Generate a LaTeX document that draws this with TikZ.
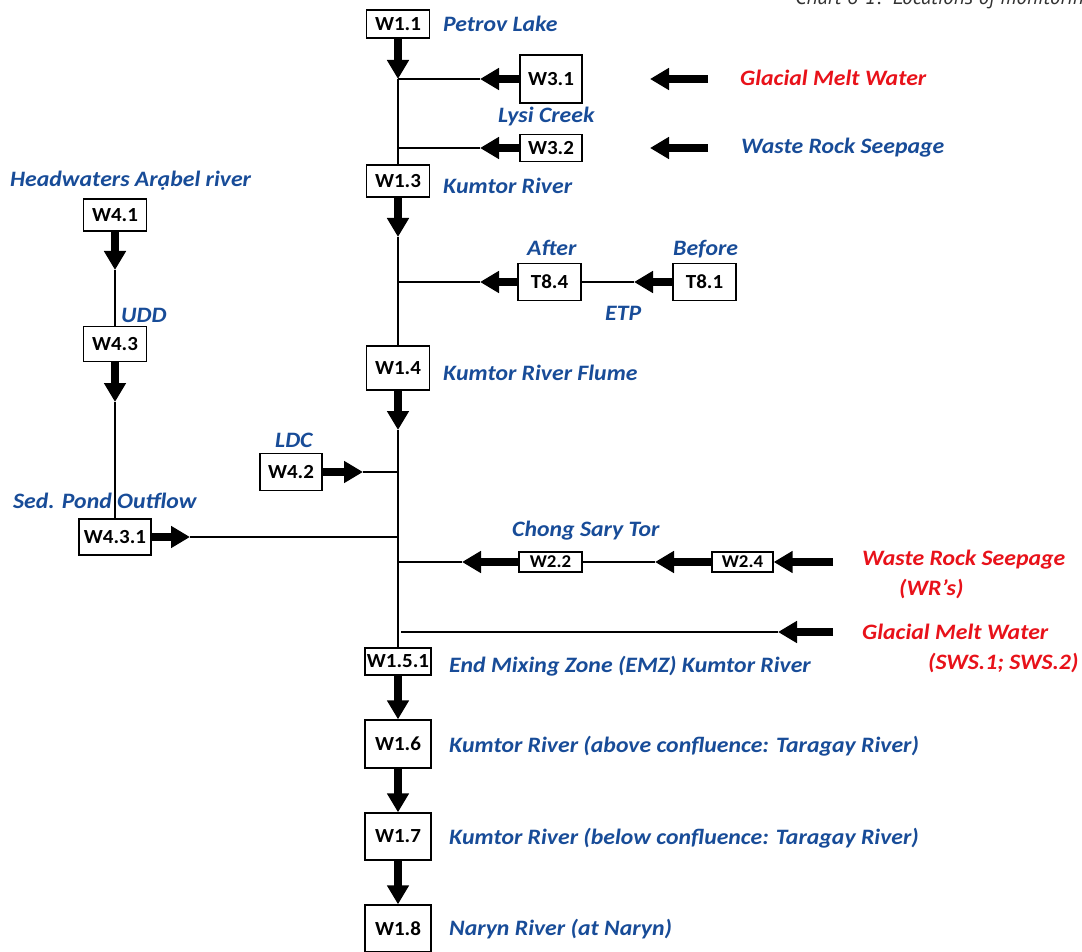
\documentclass[tikz,border=0pt]{standalone}
\usepackage{fontspec}
\setmainfont{Carlito}
\newfontfamily\labfont[FakeStretch=1.08]{Carlito}
\newfontfamily\stnfont[FakeStretch=1.05]{Carlito}
\newfontfamily\capfont{PT Sans}
\usetikzlibrary{arrows.meta}
\definecolor{siteblue}{RGB}{24,76,152}
\definecolor{srcred}{RGB}{232,18,26}
\definecolor{capgray}{RGB}{50,50,50}

\begin{document}
\begin{tikzpicture}[x=1pt,y=-1pt,
  stn/.style={draw,line width=1.3pt,fill=white,inner sep=0pt,text=black,
    font=\stnfont\fontsize{20}{20}\selectfont\bfseries},
  stnsmall/.style={stn,font=\stnfont\fontsize{18}{18}\selectfont\bfseries},
  site/.style={inner sep=0pt,anchor=base west,text=siteblue,
    font=\labfont\fontsize{22}{22}\selectfont\bfseries\itshape},
  src/.style={site,text=srcred},
  feed/.style={line width=1.4pt},
  flow/.style={line width=8pt,-{Triangle[length=19pt,width=21pt]}},
]
\useasboundingbox (0,0) rectangle (1082,952);
\begin{scope}
\clip (0,0) rectangle (1082,952);

% caption running off the top edge
\node[inner sep=0pt,anchor=base west,text=capgray,
  font=\capfont\itshape\fontsize{21}{21}\selectfont] (cap) at (795,5)
  {Chart 6-1:\ \ Locations of monitoring};

% ---- stations ----
\node[stn,minimum width=63pt,minimum height=28pt] (W11) at (398,24) {W1.1};
\node[stn,minimum width=62pt,minimum height=48pt] (W31) at (551,79) {W3.1};
\node[stn,minimum width=62pt,minimum height=27pt] (W32) at (551,148) {W3.2};
\node[stn,minimum width=63pt,minimum height=32pt] (W13) at (398,181) {W1.3};
\node[stn,minimum width=63pt,minimum height=32pt] (W41) at (115,215) {W4.1};
\node[stn,minimum width=63pt,minimum height=35pt] (W43) at (115,344) {W4.3};
\node[stn,minimum width=63pt,minimum height=37pt] (T84) at (549.5,282) {T8.4};
\node[stn,minimum width=63pt,minimum height=37pt] (T81) at (704.5,282) {T8.1};
\node[stn,minimum width=63pt,minimum height=44pt] (W14) at (398,368) {W1.4};
\node[stn,minimum width=62pt,minimum height=37pt] (W42) at (291,472) {W4.2};
\node[stn,minimum width=72pt,minimum height=36pt] (W431) at (115,537) {W4.3.1};
\node[stnsmall,minimum width=63pt,minimum height=20pt] (W22) at (550.5,562) {W2.2};
\node[stnsmall,minimum width=61pt,minimum height=20pt] (W24) at (742.5,562) {W2.4};
\node[stn,minimum width=66pt,minimum height=27pt] (W151) at (398,661.5) {W1.5.1};
\node[stn,minimum width=66pt,minimum height=48pt] (W16) at (398,744) {W1.6};
\node[stn,minimum width=66pt,minimum height=47pt] (W17) at (398,836.5) {W1.7};
\node[stn,minimum width=66pt,minimum height=47pt] (W18) at (398,928.5) {W1.8};

% ---- labels ----
\node[site] (lPetrov) at (443,32) {Petrov Lake};
\node[site] (lLysi) at (498,123) {Lysi Creek};
\node[site] (lKum) at (443,194) {Kumtor River};
\node[site] (lHead) at (10,187) {Headwaters Arạbel river};
\node[site] (lAfter) at (527,256) {After};
\node[site] (lBefore) at (673,256) {Before};
\node[site] (lETP) at (605,320) {ETP};
\node[site] (lUDD) at (121,322) {UDD};
\node[site] (lFlume) at (443,380) {Kumtor River Flume};
\node[site] (lLDC) at (275,447) {LDC};
\node[site] (lSed) at (13,508) {Sed. Pond Outflow};
\node[site] (lChong) at (512,536) {Chong Sary Tor};
\node[site] (lEMZ) at (449,672) {End Mixing Zone (EMZ) Kumtor River};
\node[site] (lAbove) at (449,752) {Kumtor River (above confluence: Taragay River)};
\node[site] (lBelow) at (449,844) {Kumtor River (below confluence: Taragay River)};
\node[site] (lNaryn) at (449,935) {Naryn River (at Naryn)};
\node[site] (lWRS1) at (741,154) {Waste Rock Seepage};
\node[src] (lGMW1) at (740,86) {Glacial Melt Water};
\node[src] (lWRS2) at (862,565) {Waste Rock Seepage};
\node[src] (lWRS2b) at (899,595) {(WR’s)};
\node[src] (lGMW2) at (862,639) {Glacial Melt Water};
\node[src] (lGMW2b) at (928,669) {(SWS.1; SWS.2)};

% ---- junctions on the main channel and arrow tips ----
\coordinate (j1) at (398,79);
\coordinate (j2) at (398,148);
\coordinate (j3) at (398,282);
\coordinate (j4) at (398,472);
\coordinate (j5) at (398,537);
\coordinate (j6) at (398,562);
\coordinate (j7) at (401,632);
\coordinate (t31) at (480,79);
\coordinate (t32) at (480,148);
\coordinate (t13) at (398,237);
\coordinate (t84) at (480,282);
\coordinate (t81) at (634,282);
\coordinate (t14) at (398,430);
\coordinate (t42) at (363,472);
\coordinate (t431) at (190,537);
\coordinate (t22) at (462,562);
\coordinate (t24) at (655,562);
\coordinate (t41) at (115,270);
\coordinate (t43) at (115,402);
\coordinate (s1a) at (708,79);
\coordinate (s1b) at (650,79);
\coordinate (s2a) at (708,148);
\coordinate (s2b) at (650,148);
\coordinate (s3a) at (833,562);
\coordinate (s4a) at (833,632);
\coordinate (s4b) at (778,632);

% ---- main Kumtor channel ----
\draw[flow] (W11) -- (j1);
\draw[feed] (j1) -- (W13);
\draw[flow] (W13) -- (t13);
\draw[feed] (t13) -- (W14);
\draw[flow] (W14) -- (t14);
\draw[feed] (t14) -- (W151);
\draw[flow] (W151) -- (W16);
\draw[flow] (W16) -- (W17);
\draw[flow] (W17) -- (W18);

% ---- tributaries from the right ----
\draw[feed] (j1) -- (t31);
\draw[flow] (W31) -- (t31);
\draw[flow] (s1a) -- (s1b);
\draw[feed] (j2) -- (t32);
\draw[flow] (W32) -- (t32);
\draw[flow] (s2a) -- (s2b);
\draw[feed] (j3) -- (t84);
\draw[flow] (T84) -- (t84);
\draw[feed] (T84) -- (t81);
\draw[flow] (T81) -- (t81);
\draw[feed] (j6) -- (t22);
\draw[flow] (W22) -- (t22);
\draw[feed] (W22) -- (t24);
\draw[flow] (W24) -- (t24);
\draw[flow] (s3a) -- (W24);
\draw[feed] (j7) -- (s4b);
\draw[flow] (s4a) -- (s4b);

% ---- tributaries from the left ----
\draw[flow] (W42) -- (t42);
\draw[feed] (t42) -- (j4);
\draw[flow] (W41) -- (t41);
\draw[feed] (t41) -- (W43);
\draw[flow] (W43) -- (t43);
\draw[feed] (t43) -- (W431);
\draw[flow] (W431) -- (t431);
\draw[feed] (t431) -- (j5);
\end{scope}
\end{tikzpicture}
\end{document}
